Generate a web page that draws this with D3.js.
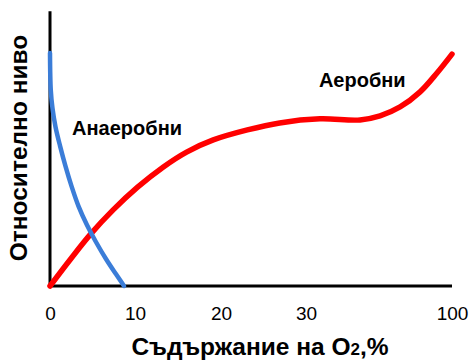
<!DOCTYPE html>
<html>
<head>
<meta charset="utf-8">
<script src="https://cdn.jsdelivr.net/npm/d3@7/dist/d3.min.js"></script>
<style>
  html, body { margin: 0; padding: 0; background: #fff; }
  svg { display: block; font-family: "Liberation Sans", Arial, sans-serif; }
</style>
</head>
<body>
<svg id="chart" width="470" height="360"></svg>
<script>
// ---- data ----
const xTicks = [0, 10, 20, 30, 100];
const xTickLabels = ["0", "10", "20", "30", "100"];

// Anaerobic (blue) series: [O2 %, relative level]
const anaerobX = [0, 0.09, 0.29, 0.65, 1.18, 1.82, 2.53, 3.35, 4.35, 5.41, 6.59, 7.76, 8.71];
const anaerobY = [86.3, 72.6, 65.9, 58.9, 51.9, 44.4, 37.0, 29.6, 22.6, 16.3, 10.0, 4.4, 0];

// Aerobic (red) series
const aerobX = [0, 2.5, 4.8, 7.4, 10.3, 13.3, 16.0, 19.1, 23.1, 26.9, 36.7, 55.9, 65.5, 75.1, 84.7, 92.8, 100];
const aerobY = [0, 10.3, 19.3, 28.1, 36.6, 44.1, 49.6, 54.1, 57.8, 60.4, 61.9, 61.5, 63.0, 66.3, 71.9, 78.9, 85.9];

const labels = ["Анаеробни", "Аеробни"];
const labelX = [2.6, 36.2];
const labelY = [58.5, 76.3];

const xTitle = "Съдържание на O";
const xTitleSub = "2";
const xTitleTail = ",%";
const yTitle = "Относително ниво";

// ---- drawing ----
const svg = d3.select("#chart");
const x = d3.scaleLinear().domain(xTicks).range([50, 135, 221, 306, 452]);
const y = d3.scaleLinear().domain([0, 100]).range([286, 16]);
const yTop = 101.8;

const line = d3.line().x(d => x(d[0])).y(d => y(d[1])).curve(d3.curveCatmullRom.alpha(0.5));

// axes lines
svg.append("line")
  .attr("x1", x(0)).attr("x2", x(0))
  .attr("y1", y(yTop)).attr("y2", y(0))
  .attr("stroke", "#000").attr("stroke-width", 3);
svg.append("line")
  .attr("x1", x(0)).attr("x2", x(100))
  .attr("y1", y(0)).attr("y2", y(0))
  .attr("stroke", "#000").attr("stroke-width", 3);

// x tick labels
const xAxis = d3.axisBottom(x).tickValues(xTicks)
  .tickFormat((d, i) => xTickLabels[i]).tickSize(0).tickPadding(21);
const gx = svg.append("g").attr("transform", `translate(0,${y(0)})`).call(xAxis);
gx.select(".domain").remove();
gx.selectAll("text").attr("font-size", 19).attr("font-family", "Liberation Sans, Arial, sans-serif").attr("fill", "#000");

// series
svg.append("path")
  .datum(aerobX.map((v, i) => [v, aerobY[i]]))
  .attr("d", line).attr("fill", "none")
  .attr("stroke", "#ff0000").attr("stroke-width", 5.5).attr("stroke-linecap", "round");
svg.append("path")
  .datum(anaerobX.map((v, i) => [v, anaerobY[i]]))
  .attr("d", line).attr("fill", "none")
  .attr("stroke", "#3b7dd8").attr("stroke-width", 4.5).attr("stroke-linecap", "round");

// annotations
labels.forEach((t, i) => {
  svg.append("text")
    .attr("x", x(labelX[i])).attr("y", y(labelY[i]))
    .attr("dy", "0.35em")
    .attr("font-size", 20).attr("font-weight", "bold").attr("fill", "#000")
    .text(t);
});

// axis titles
const xt = svg.append("text")
  .attr("x", 260).attr("y", 355)
  .attr("text-anchor", "middle")
  .attr("font-size", 24.5).attr("font-weight", "bold").attr("fill", "#000");
xt.append("tspan").text(xTitle);
xt.append("tspan").attr("font-size", 17).text(xTitleSub);
xt.append("tspan").text(xTitleTail);

svg.append("text")
  .attr("transform", "translate(27,148) rotate(-90)")
  .attr("text-anchor", "middle")
  .attr("font-size", 24.5).attr("font-weight", "bold").attr("fill", "#000")
  .text(yTitle);
</script>
</body>
</html>
